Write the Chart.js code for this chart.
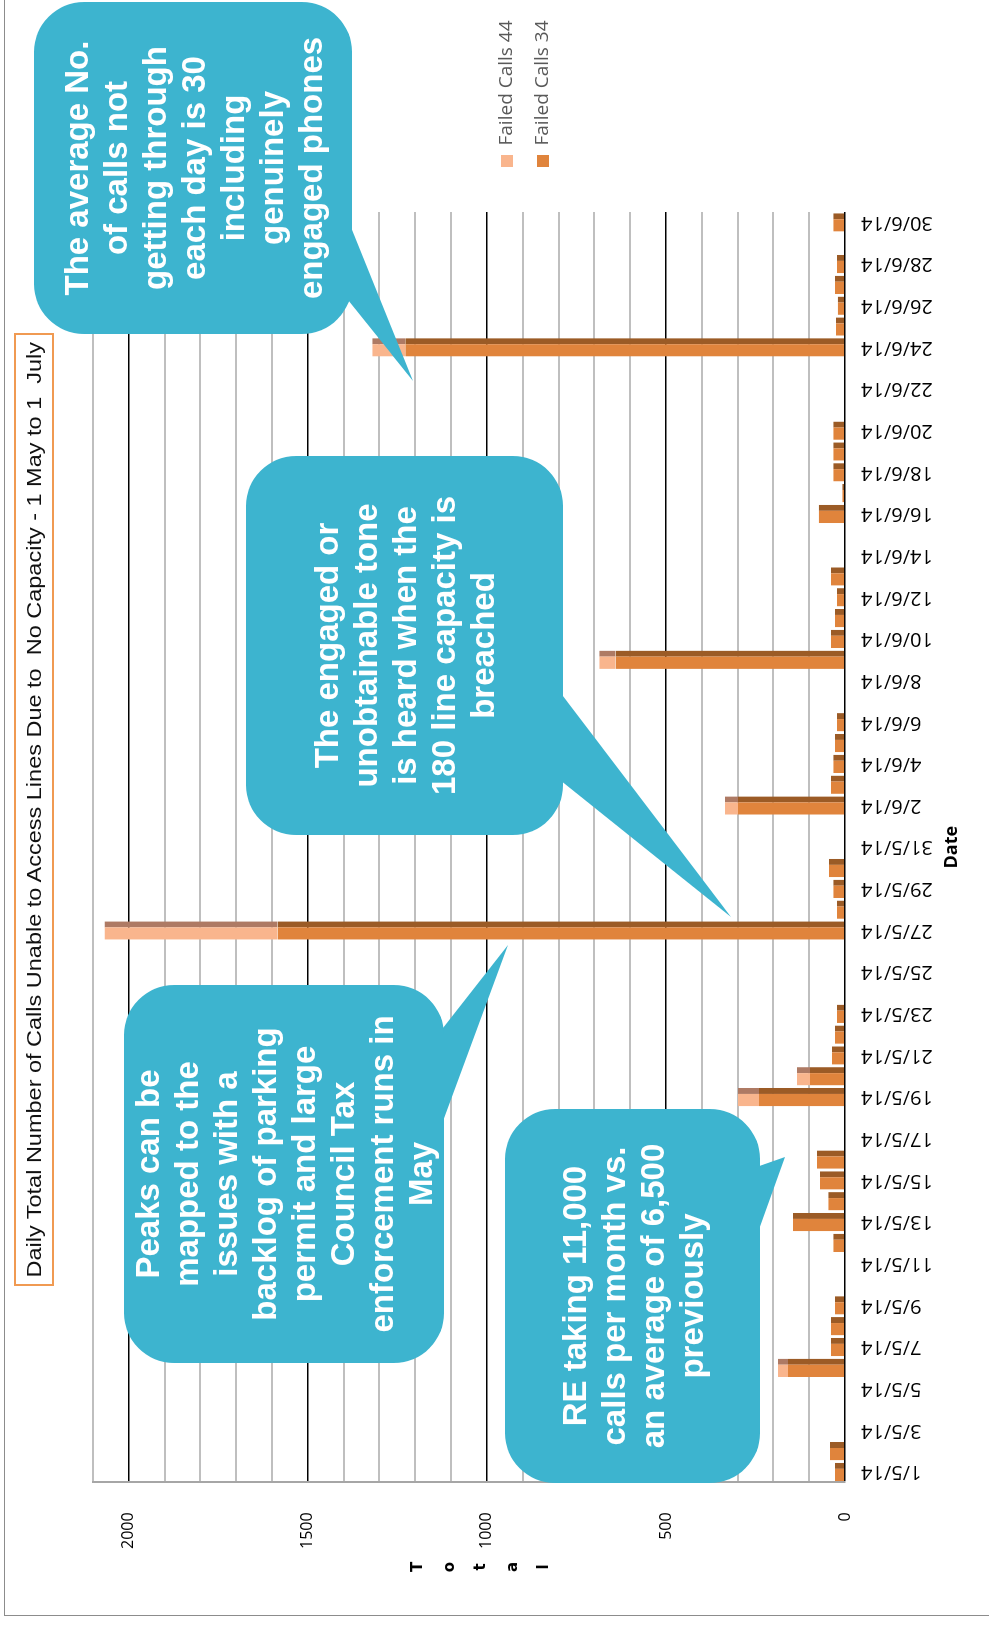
<!DOCTYPE html>
<html>
<head>
<meta charset="utf-8">
<script src="https://cdn.jsdelivr.net/npm/chart.js@4.4.1/dist/chart.umd.min.js"></script>
<style>
html,body{margin:0;padding:0;background:#fff;overflow:hidden;width:989px;height:1625px;}
#page{position:absolute;left:0;top:0;width:1625px;height:989px;transform-origin:0 0;transform:translate(0,1625px) rotate(-90deg);background:#fff;overflow:hidden;}
#frame{position:absolute;left:9px;top:4px;width:1700px;height:1100px;border-left:1.5px solid #8c8c8c;border-top:1.5px solid #8c8c8c;}
#chart{position:absolute;left:0;top:0;}
#title{position:absolute;left:339px;top:14px;width:949px;height:36px;border:2.5px solid #F09A52;background:#fff;
  display:flex;align-items:center;justify-content:center;overflow:visible;}
#title span{font-family:"Liberation Sans Narrow","Liberation Sans",sans-serif;font-size:21px;color:#111;white-space:pre;display:inline-block;transform-origin:center center;}
#ytitle{position:absolute;left:46px;top:402px;width:24px;text-align:center;font-family:"DejaVu Sans",sans-serif;font-weight:bold;font-size:15px;line-height:31.5px;color:#000;}
.callout{position:absolute;background:#3DB4CF;border-radius:50px;color:#fff;font-family:"Liberation Sans",Arial,sans-serif;font-weight:bold;font-size:33px;line-height:39px;
  display:flex;align-items:center;justify-content:center;text-align:center;white-space:nowrap;}
#tails{position:absolute;left:0;top:0;}
</style>
</head>
<body>
<div id="page">
  <div id="frame"></div>
  <canvas id="chart" width="1625" height="989"></canvas>
  <div id="title"><span id="titleText">Daily Total Number of Calls Unable to Access Lines Due to  No Capacity - 1 May to 1  July</span></div>
  <div id="ytitle">T<br>o<br>t<br>a<br>l</div>
  <svg id="tails" width="1625" height="989">
    <polygon points="1335,340 1425,340 1244,413" fill="#3DB4CF"/>
    <polygon points="853,550 946,550 708,731" fill="#3DB4CF"/>
    <polygon points="474,432 583,432 680,508" fill="#3DB4CF"/>
    <polygon points="365,748 455,748 468,785" fill="#3DB4CF"/>
  </svg>
  <div class="callout" style="left:1291px;top:34px;width:332px;height:318px;">The average No.<br>of calls not<br>getting through<br>each day is 30<br>including<br>genuinely<br>engaged phones</div>
  <div class="callout" style="left:790px;top:246px;width:379px;height:317px;">The engaged or<br>unobtainable tone<br>is heard when the<br>180 line capacity is<br>breached</div>
  <div class="callout" style="left:262px;top:124px;width:378px;height:320px;">Peaks can be<br>mapped to the<br>issues with a<br>backlog of parking<br>permit and large<br>Council Tax<br>enforcement runs in<br>May</div>
  <div class="callout" style="left:142px;top:505px;width:374px;height:255px;">RE taking 11,000<br>calls per month vs.<br>an average of 6,500<br>previously</div>
</div>
<script>
// ---- data ----
const dates = [
  '1/5/14','2/5/14','3/5/14','4/5/14','5/5/14','6/5/14','7/5/14','8/5/14','9/5/14','10/5/14',
  '11/5/14','12/5/14','13/5/14','14/5/14','15/5/14','16/5/14','17/5/14','18/5/14','19/5/14','20/5/14',
  '21/5/14','22/5/14','23/5/14','24/5/14','25/5/14','26/5/14','27/5/14','28/5/14','29/5/14','30/5/14','31/5/14',
  '1/6/14','2/6/14','3/6/14','4/6/14','5/6/14','6/6/14','7/6/14','8/6/14','9/6/14','10/6/14',
  '11/6/14','12/6/14','13/6/14','14/6/14','15/6/14','16/6/14','17/6/14','18/6/14','19/6/14','20/6/14',
  '21/6/14','22/6/14','23/6/14','24/6/14','25/6/14','26/6/14','27/6/14','28/6/14','29/6/14','30/6/14'
];
const failedCalls34 = [
  28, 42, 0, 0, 0, 159, 39, 39, 28, 0,
  0, 33, 145, 47, 70, 78, 0, 0, 240, 98,
  36, 28, 22, 0, 0, 0, 1585, 22, 33, 45, 0,
  0, 299, 39, 33, 28, 22, 0, 0, 641, 39,
  28, 22, 39, 0, 0, 73, 8, 33, 33, 33,
  0, 0, 0, 1228, 25, 20, 28, 22, 0, 33
];
const failedCalls44 = [
  0, 0, 0, 0, 0, 28, 0, 0, 0, 0,
  0, 0, 0, 0, 0, 0, 0, 0, 59, 36,
  0, 0, 0, 0, 0, 0, 483, 0, 0, 0, 0,
  0, 36, 0, 0, 0, 0, 0, 0, 45, 0,
  0, 0, 0, 0, 0, 0, 0, 0, 0, 0,
  0, 0, 0, 92, 0, 0, 0, 0, 0, 0
];
const valueTickLabels = [0, 500, 1000, 1500, 2000];
const valueMax = 2100;
const valueStep = 100;
const seriesNames = ['Failed Calls 34', 'Failed Calls 44'];

// fit title text to box width
const tt = document.getElementById('titleText');
const w = tt.offsetWidth;
tt.style.transform = 'scaleX(' + (935 / w) + ')';

// legend sizing
const mctx = document.createElement('canvas').getContext('2d');
mctx.font = '19px "Open Sans"';
const legTextW = Math.max(...seriesNames.map(t => mctx.measureText(t).width));
const legPad = 17, legBox = 12, legFont = 19;
const legWidth = legPad + legBox + legFont / 2 + legTextW + 10;
const plotRight = 1413, legendLeft = 1441;
const gapScale = legendLeft - plotRight;
const padRight = Math.max(0, 1625 - legendLeft - legWidth);

new Chart(document.getElementById('chart').getContext('2d'), {
  type: 'bar',
  data: {
    labels: dates,
    datasets: [
      { label: seriesNames[0], data: failedCalls34, backgroundColor: '#E0843C', borderColor: '#9B5B26',
        borderWidth: {left: 0, right: 6, top: 0, bottom: 0}, borderSkipped: false,
        barPercentage: 0.88, categoryPercentage: 1 },
      { label: seriesNames[1], data: failedCalls44, backgroundColor: '#F9B58D', borderColor: '#AE7A64',
        borderWidth: {left: 0, right: 6, top: 0, bottom: 0}, borderSkipped: false,
        barPercentage: 0.88, categoryPercentage: 1 }
    ]
  },
  options: {
    responsive: false,
    animation: false,
    layout: { padding: { left: 0, right: padRight, top: 93, bottom: 0 } },
    plugins: {
      tooltip: { enabled: false },
      legend: {
        position: 'right', fullSize: false, reverse: true, align: 'center',
        title: { display: true, text: '', padding: { top: 0, bottom: 102 }, font: { size: 10, lineHeight: 1 } },
        labels: {
          boxWidth: legBox, boxHeight: legBox, padding: legPad, color: '#595959',
          font: { family: 'Open Sans', size: legFont },
          generateLabels: (chart) => Chart.defaults.plugins.legend.labels.generateLabels(chart)
            .map(l => Object.assign(l, { lineWidth: 0, strokeStyle: 'rgba(0,0,0,0)' }))
        }
      }
    },
    scales: {
      x: {
        stacked: true,
        grid: { display: false },
        border: { display: false },
        ticks: {
          autoSkip: false, minRotation: 90, maxRotation: 90, padding: 8, color: '#000',
          font: { family: 'Open Sans', size: 20 },
          callback: (v, i) => (i % 2 === 0 ? dates[i] : '')
        },
        title: { display: true, text: 'Date', color: '#000',
          font: { family: 'Open Sans', size: 18, weight: 'bold', lineHeight: 1.2 },
          padding: { top: 0, bottom: 26 } },
        afterFit: (s) => { s.height = 144; }
      },
      y: {
        stacked: true, min: 0, max: valueMax,
        ticks: {
          stepSize: valueStep, padding: 30, color: '#000',
          font: { family: 'Open Sans', size: 16 },
          callback: (v) => (valueTickLabels.includes(v) ? String(v) : '')
        },
        grid: {
          drawTicks: false,
          color: (c) => (c.tick && c.tick.value % 500 === 0 ? '#000' : '#BFBFBF'),
          lineWidth: (c) => (c.tick && c.tick.value % 500 === 0 ? 1.5 : 2)
        },
        border: { display: true, color: '#A6A6A6', width: 2 },
        afterFit: (s) => { s.width = 142.6; }
      },
      y2: {
        type: 'linear', position: 'right', display: true,
        grid: { display: false }, ticks: { display: false }, border: { display: false },
        afterFit: (s) => { s.width = gapScale; }
      }
    }
  }
});
</script>
</body>
</html>
